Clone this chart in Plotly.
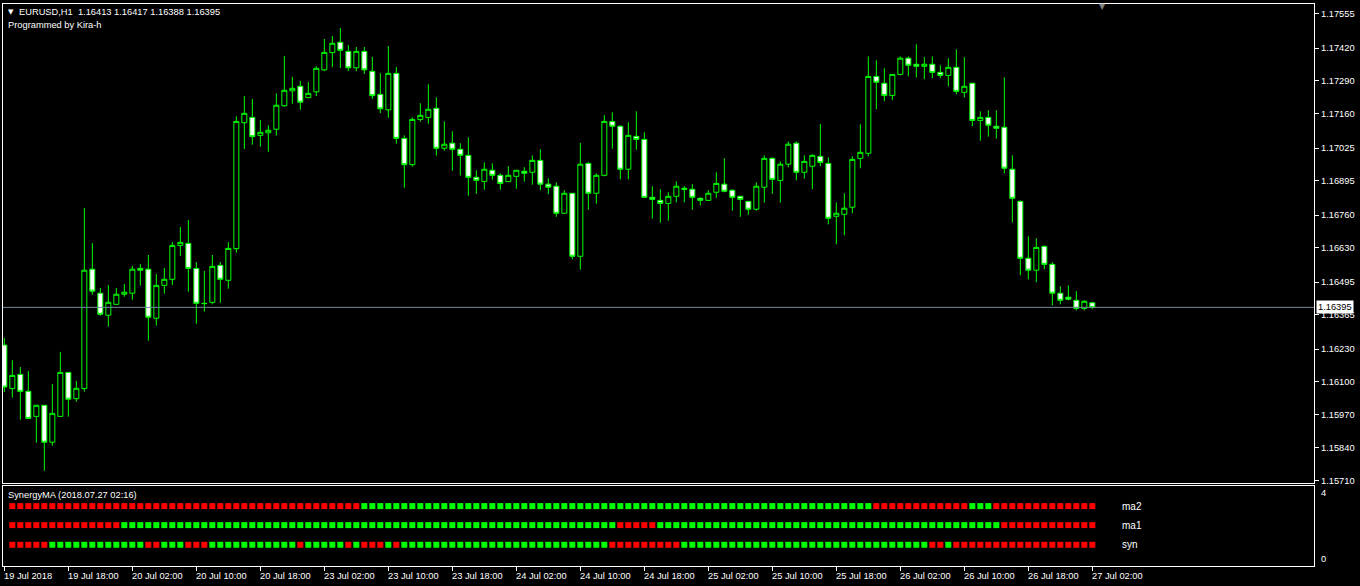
import plotly.graph_objects as go

# ---------------- data ----------------
symbol = "EURUSD,H1"
bar_index = list(range(137))

opens = [1.16246, 1.16074, 1.16130, 1.16063, 1.15964, 1.16008, 1.15862, 1.15964, 1.16138, 1.16034,
         1.16074, 1.16546, 1.16451, 1.16364, 1.16407, 1.16447, 1.16451, 1.16549, 1.16546, 1.16352,
         1.16482, 1.16506, 1.16640, 1.16648, 1.16549, 1.16411, 1.16415, 1.16561, 1.16502, 1.16627,
         1.17125, 1.17146, 1.17075, 1.17085, 1.17099, 1.17192, 1.17251, 1.17269, 1.17224, 1.17247,
         1.17334, 1.17402, 1.17443, 1.17407, 1.17342, 1.17407, 1.17328, 1.17237, 1.17176, 1.17320,
         1.17063, 1.16959, 1.17138, 1.17146, 1.17182, 1.17024, 1.17044, 1.17020, 1.16996, 1.16909,
         1.16893, 1.16937, 1.16917, 1.16892, 1.16913, 1.16933, 1.16929, 1.16976, 1.16882, 1.16874,
         1.16767, 1.16846, 1.16597, 1.16964, 1.16846, 1.16917, 1.17130, 1.17111, 1.16941, 1.17071,
         1.17059, 1.16830, 1.16818, 1.16806, 1.16834, 1.16866, 1.16862, 1.16826, 1.16818, 1.16850,
         1.16882, 1.16858, 1.16834, 1.16814, 1.16783, 1.16870, 1.16984, 1.16897, 1.16961, 1.17044,
         1.16929, 1.16953, 1.16992, 1.16964, 1.16755, 1.16763, 1.16791, 1.16984, 1.17004, 1.17308,
         1.17281, 1.17233, 1.17316, 1.17380, 1.17356, 1.17348, 1.17356, 1.17324, 1.17312, 1.17344,
         1.17245, 1.17281, 1.17134, 1.17146, 1.17111, 1.17107, 1.16941, 1.16814, 1.16589, 1.16542,
         1.16636, 1.16565, 1.16451, 1.16435, 1.16423, 1.16391, 1.16413]
highs = [1.16274, 1.16186, 1.16159, 1.16143, 1.16008, 1.16008, 1.16092, 1.16219, 1.16138, 1.16104,
         1.16788, 1.16649, 1.16472, 1.16483, 1.16472, 1.16487, 1.16559, 1.16566, 1.16602, 1.16527,
         1.16551, 1.16653, 1.16713, 1.16740, 1.16574, 1.16539, 1.16602, 1.16574, 1.16653, 1.17150,
         1.17230, 1.17219, 1.17136, 1.17115, 1.17241, 1.17389, 1.17306, 1.17290, 1.17286, 1.17348,
         1.17456, 1.17468, 1.17499, 1.17432, 1.17424, 1.17424, 1.17385, 1.17321, 1.17428, 1.17345,
         1.17075, 1.17146, 1.17202, 1.17277, 1.17225, 1.17130, 1.17091, 1.17044, 1.17067, 1.16937,
         1.16968, 1.16964, 1.16925, 1.16953, 1.16937, 1.16949, 1.16996, 1.17020, 1.16905, 1.16889,
         1.16858, 1.16846, 1.17045, 1.16970, 1.16925, 1.17155, 1.17166, 1.17115, 1.17127, 1.17170,
         1.17087, 1.16874, 1.16862, 1.16850, 1.16893, 1.16874, 1.16882, 1.16830, 1.16858, 1.16929,
         1.16984, 1.16862, 1.16834, 1.16814, 1.16889, 1.16996, 1.16988, 1.16972, 1.17051, 1.17051,
         1.16996, 1.17000, 1.17120, 1.16988, 1.16810, 1.16846, 1.16992, 1.17119, 1.17387, 1.17372,
         1.17340, 1.17316, 1.17387, 1.17387, 1.17435, 1.17384, 1.17387, 1.17352, 1.17380, 1.17415,
         1.17384, 1.17281, 1.17170, 1.17174, 1.17174, 1.17304, 1.16996, 1.16818, 1.16676, 1.16668,
         1.16640, 1.16573, 1.16478, 1.16482, 1.16459, 1.16423, 1.16417]
lows = [1.16060, 1.16038, 1.15951, 1.15954, 1.15860, 1.15749, 1.15848, 1.15964, 1.15963, 1.16022,
        1.16062, 1.16445, 1.16362, 1.16319, 1.16407, 1.16437, 1.16425, 1.16481, 1.16263, 1.16323,
        1.16449, 1.16483, 1.16598, 1.16457, 1.16330, 1.16378, 1.16407, 1.16413, 1.16469, 1.16611,
        1.17021, 1.17038, 1.17030, 1.17010, 1.17074, 1.17188, 1.17200, 1.17176, 1.17224, 1.17230,
        1.17329, 1.17345, 1.17341, 1.17329, 1.17329, 1.17318, 1.17219, 1.17163, 1.17144, 1.17042,
        1.16868, 1.16951, 1.17129, 1.17121, 1.16995, 1.17014, 1.16935, 1.16916, 1.16836, 1.16844,
        1.16860, 1.16900, 1.16860, 1.16892, 1.16864, 1.16892, 1.16880, 1.16858, 1.16842, 1.16753,
        1.16767, 1.16585, 1.16544, 1.16781, 1.16805, 1.16913, 1.17022, 1.16901, 1.16901, 1.17018,
        1.16830, 1.16746, 1.16730, 1.16738, 1.16810, 1.16810, 1.16781, 1.16798, 1.16818, 1.16828,
        1.16850, 1.16777, 1.16753, 1.16761, 1.16777, 1.16809, 1.16844, 1.16809, 1.16949, 1.16897,
        1.16904, 1.16862, 1.16953, 1.16723, 1.16644, 1.16680, 1.16767, 1.16945, 1.16992, 1.17178,
        1.17210, 1.17214, 1.17312, 1.17308, 1.17304, 1.17297, 1.17301, 1.17301, 1.17269, 1.17237,
        1.17225, 1.17111, 1.17054, 1.17070, 1.17062, 1.16925, 1.16731, 1.16522, 1.16506, 1.16494,
        1.16546, 1.16403, 1.16407, 1.16423, 1.16383, 1.16383, 1.16388]
closes = [1.16080, 1.16126, 1.16063, 1.15956, 1.16008, 1.15862, 1.15976, 1.16138, 1.16032, 1.16075,
          1.16542, 1.16459, 1.16368, 1.16415, 1.16447, 1.16455, 1.16546, 1.16542, 1.16356, 1.16482,
          1.16506, 1.16640, 1.16652, 1.16549, 1.16411, 1.16410, 1.16557, 1.16506, 1.16628, 1.17130,
          1.17162, 1.17070, 1.17087, 1.17095, 1.17194, 1.17253, 1.17261, 1.17206, 1.17241, 1.17340,
          1.17403, 1.17439, 1.17411, 1.17342, 1.17407, 1.17334, 1.17232, 1.17180, 1.17320, 1.17063,
          1.16959, 1.17138, 1.17154, 1.17178, 1.17024, 1.17040, 1.17020, 1.16996, 1.16909, 1.16897,
          1.16941, 1.16917, 1.16885, 1.16917, 1.16937, 1.16925, 1.16976, 1.16882, 1.16870, 1.16767,
          1.16846, 1.16597, 1.16961, 1.16846, 1.16917, 1.17130, 1.17111, 1.16941, 1.17075, 1.17059,
          1.16830, 1.16822, 1.16806, 1.16834, 1.16874, 1.16862, 1.16830, 1.16818, 1.16846, 1.16885,
          1.16854, 1.16830, 1.16822, 1.16783, 1.16874, 1.16984, 1.16901, 1.16961, 1.17040, 1.16929,
          1.16972, 1.16996, 1.16968, 1.16747, 1.16767, 1.16787, 1.16980, 1.17008, 1.17308, 1.17285,
          1.17233, 1.17316, 1.17380, 1.17352, 1.17348, 1.17356, 1.17324, 1.17312, 1.17344, 1.17249,
          1.17269, 1.17134, 1.17146, 1.17115, 1.17103, 1.16945, 1.16826, 1.16589, 1.16542, 1.16632,
          1.16565, 1.16451, 1.16423, 1.16427, 1.16391, 1.16419, 1.16395]

price_ticks = [1.17555, 1.17420, 1.17290, 1.17160, 1.17025, 1.16895, 1.16760, 1.16630,
               1.16495, 1.16365, 1.16230, 1.16100, 1.15970, 1.15840, 1.15710]

time_tick_bars = [0, 8, 16, 24, 32, 40, 48, 56, 64, 72, 80, 88, 96, 104, 112, 120, 128, 136]
time_tick_labels = ["19 Jul 2018", "19 Jul 18:00", "20 Jul 02:00", "20 Jul 10:00", "20 Jul 18:00",
                    "23 Jul 02:00", "23 Jul 10:00", "23 Jul 18:00", "24 Jul 02:00", "24 Jul 10:00",
                    "24 Jul 18:00", "25 Jul 02:00", "25 Jul 10:00", "25 Jul 18:00", "26 Jul 02:00",
                    "26 Jul 10:00", "26 Jul 18:00", "27 Jul 02:00"]

# SynergyMA indicator states for bars 1..136 (G = up / green, R = down / red), grouped by 8 bars
ind_bars = list(range(1, 137))
ma2_state = ("RRRRRRRR RRRRRRRR RRRRRRRR RRRRRRRR RRRRRRRR RRRRGGGG GGGGGGGG GGGGGGGG GGGGGGGG "
             "GGGGGGGG GGGGGGGG GGGGGGGG GGGGGGGG GGGGRRRR RRRRRRRR GGGRRRRR RRRRRRRR")
ma1_state = ("RRRRRRRR RRRRRRGG GGGGGGGG GGGGGGGG GGGGGGGG GGGGGGGG GGGGGGGG GGGGGGGG GGGGGGGG "
             "GGGGRRRR RGGGGGGG GGGGGGGG GGGGGGGG GGGGGGGG GGGGGGGG GGGGRRRR RRRRRRRR")
syn_state = ("RRRRRGGG GGGGGGGG GRRGGGRR RGGGGGGG GGGGRGGG GGRGRRRG RGGGGGGG GGGGGGGG GGGGGGGG "
             "GGGRRRRR RRRRGGGG GGGGGGGG GGGGGGGG GGGGGGGG GGGRRGRR RRRRRRRR RRRRRRRR")
indicator_rows = ["ma2", "ma1", "syn"]
indicator_states = [ma2_state, ma1_state, syn_state]
indicator_title = "SynergyMA (2018.07.27 02:16)"
indicator_ticks = [0, 4]

# ---------------- style ----------------
W, H = 1360, 586
FONT = "Liberation Sans"
FS = 9.3
LIME = "#00FF00"
RED = "#FF0000"
X0, X1 = 3, 1314            # plot area, pixels
MAIN_T, MAIN_B = 3.5, 483
SUB_T, SUB_B = 486, 566
row_level = {"ma2": 3.2, "ma1": 2.04, "syn": 0.84}


def py(p):
    return 1 - p / H


x_range = [-0.166, -0.166 + (X1 - X0) / 8.0]

fig = go.Figure()

fig.add_trace(go.Candlestick(
    x=bar_index, open=opens, high=highs, low=lows, close=closes,
    increasing=dict(line=dict(color=LIME, width=1), fillcolor="#000000"),
    decreasing=dict(line=dict(color=LIME, width=1), fillcolor="#FFFFFF"),
    whiskerwidth=0, xaxis="x", yaxis="y", hoverinfo="skip", showlegend=False,
))

for name, states in zip(indicator_rows, indicator_states):
    s = states.replace(" ", "")
    cols = [LIME if c == "G" else RED for c in s]
    fig.add_trace(go.Scatter(
        x=ind_bars, y=[row_level[name]] * len(ind_bars), mode="markers",
        marker=dict(symbol="square", size=6, color=cols, line=dict(width=0)),
        xaxis="x2", yaxis="y2", hoverinfo="skip", showlegend=False,
    ))

axis_common = dict(showgrid=False, zeroline=False, showline=True, mirror=True,
                   linecolor="#FFFFFF", linewidth=1, fixedrange=True)

fig.update_layout(
    width=W, height=H,
    margin=dict(l=0, r=0, t=0, b=0),
    paper_bgcolor="#000000", plot_bgcolor="#000000",
    font=dict(family=FONT, size=FS, color="#FFFFFF"),
    boxgap=0.375, boxgroupgap=0,
    xaxis=dict(domain=[X0 / W, X1 / W], range=x_range, anchor="y",
               showticklabels=False, ticks="", rangeslider=dict(visible=False), **axis_common),
    yaxis=dict(domain=[py(MAIN_B), py(MAIN_T)], range=[1.157007, 1.175962], anchor="x",
               side="right", tickvals=price_ticks, showticklabels=False,
               ticks="outside", ticklen=4, tickcolor="#FFFFFF", **axis_common),
    xaxis2=dict(domain=[X0 / W, X1 / W], range=x_range, anchor="y2",
                tickvals=time_tick_bars, showticklabels=False,
                ticks="outside", ticklen=4, tickcolor="#FFFFFF", **axis_common),
    yaxis2=dict(domain=[py(SUB_B), py(SUB_T)], range=[-0.457, 4.427], anchor="x2",
                side="right", tickvals=indicator_ticks, showticklabels=False,
                ticks="", **axis_common),
)

# bid line
fig.add_shape(type="line", xref="x domain", yref="y", x0=0, x1=1,
              y0=closes[-1], y1=closes[-1], line=dict(color="#778899", width=1))

ann = []
# price axis labels
for v in price_ticks:
    ann.append(dict(xref="paper", yref="y", x=1318.5 / W, y=v, xanchor="left", yanchor="middle",
                    text=f"{v:.5f}", showarrow=False,
                    font=dict(family=FONT, size=FS, color="#FFFFFF")))
# indicator axis labels
for v in indicator_ticks:
    ann.append(dict(xref="paper", yref="y2", x=1318.5 / W, y=v, xanchor="left", yanchor="middle",
                    text=str(v), showarrow=False,
                    font=dict(family=FONT, size=FS, color="#FFFFFF")))
# price label box
ann.append(dict(xref="paper", yref="y", x=1316 / W, y=closes[-1], xanchor="left", yanchor="middle",
                text=f"{closes[-1]:.5f}", showarrow=False, bgcolor="#FFFFFF", borderpad=1,
                font=dict(family=FONT, size=FS, color="#000000")))
# header
ann.append(dict(xref="paper", yref="paper", x=6 / W, y=py(11.5), xanchor="left", yanchor="middle",
                text="▼", showarrow=False, font=dict(family="DejaVu Sans", size=7, color="#FFFFFF")))
header = f"{symbol}\u00a0\u00a0{opens[-1]:.5f} {highs[-1]:.5f} {lows[-1]:.5f} {closes[-1]:.5f}"
ann.append(dict(xref="paper", yref="paper", x=17 / W, y=py(11.5), xanchor="left", yanchor="middle",
                text=header, showarrow=False, font=dict(family=FONT, size=FS, color="#FFFFFF")))
ann.append(dict(xref="paper", yref="paper", x=6 / W, y=py(24.5), xanchor="left", yanchor="middle",
                text="Programmed by Kira-h", showarrow=False,
                font=dict(family=FONT, size=FS, color="#FFFFFF")))
# chart shift marker
ann.append(dict(xref="paper", yref="paper", x=1102 / W, y=py(6), xanchor="center", yanchor="middle",
                text="▼", showarrow=False, font=dict(family="DejaVu Sans", size=8, color="#808080")))
# indicator title and row labels
ann.append(dict(xref="paper", yref="paper", x=6 / W, y=py(495), xanchor="left", yanchor="middle",
                text=indicator_title, showarrow=False, font=dict(family=FONT, size=FS, color="#FFFFFF")))
for name in indicator_rows:
    ann.append(dict(xref="paper", yref="y2", x=1120 / W, y=row_level[name], xanchor="left",
                    yanchor="middle", text=name, showarrow=False,
                    font=dict(family=FONT, size=FS + 0.7, color="#FFFFFF")))
# time labels
for b, lab in zip(time_tick_bars, time_tick_labels):
    ann.append(dict(xref="x2", yref="paper", x=b, y=py(575.5), xanchor="left", yanchor="middle",
                    xshift=-2, text=lab, showarrow=False,
                    font=dict(family=FONT, size=FS, color="#FFFFFF")))
fig.update_layout(annotations=ann)

fig.write_html("out.html", config={"displayModeBar": False},
               post_script="document.body.style.margin='0';document.body.style.background='#000';")
